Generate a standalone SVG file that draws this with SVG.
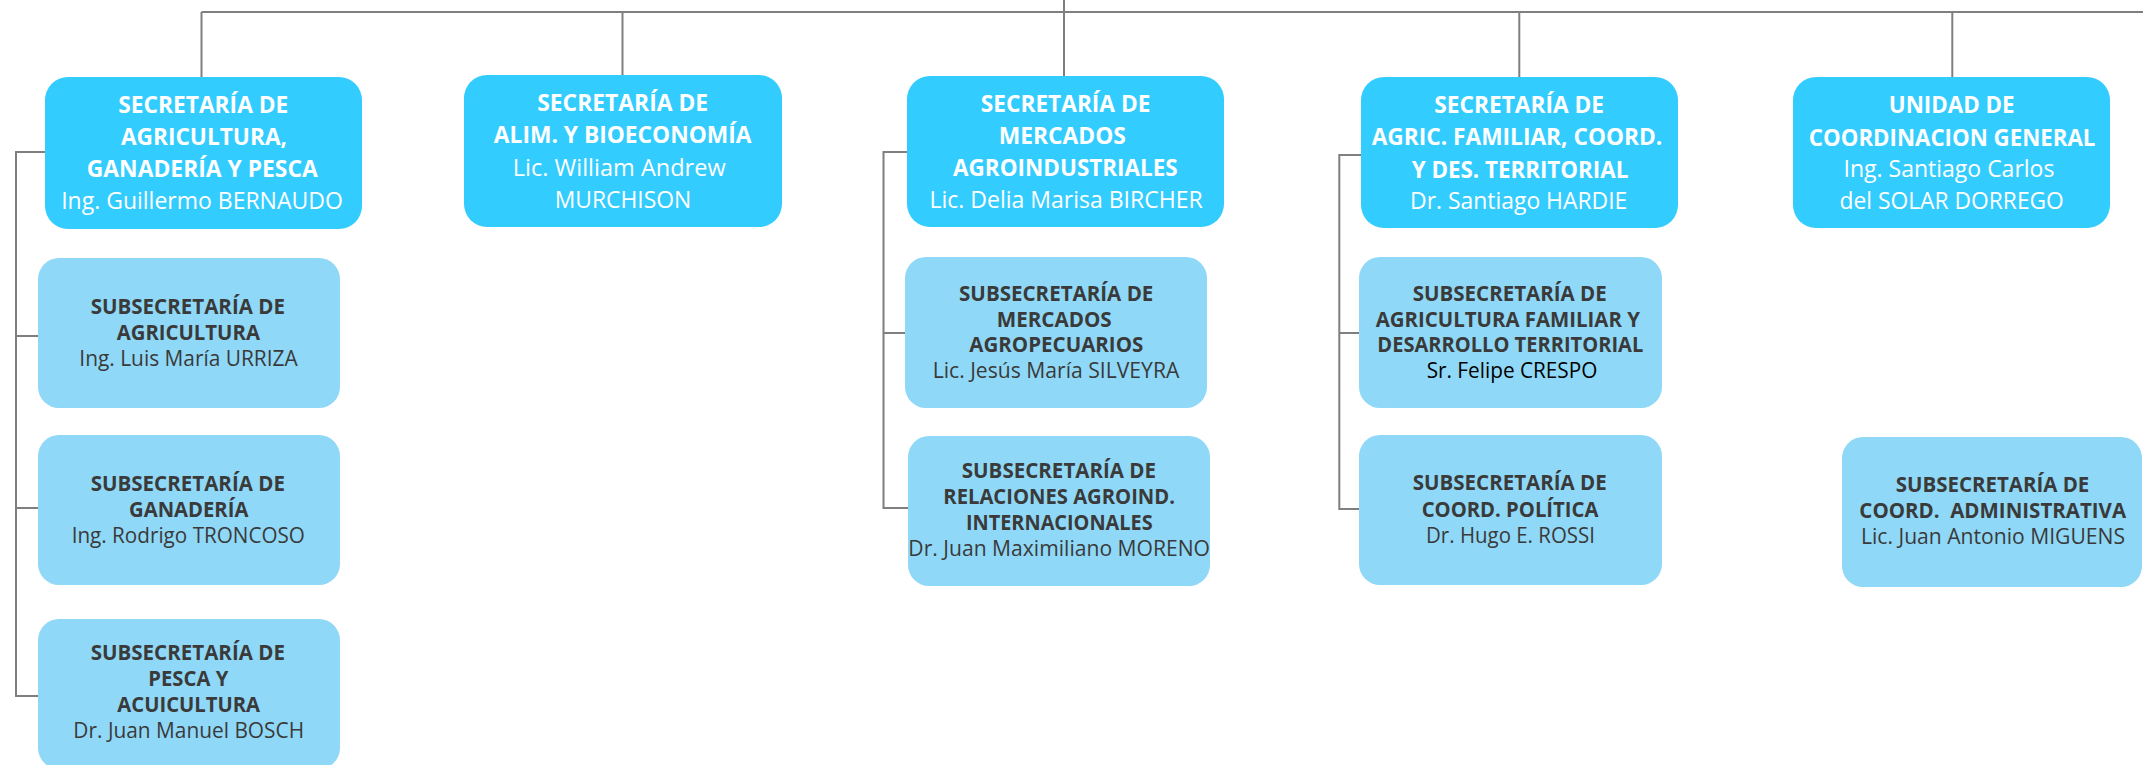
<svg xmlns="http://www.w3.org/2000/svg" width="2143" height="765" viewBox="0 0 2143 765">
<style>
.top{fill:#33CCFF}
.sub{fill:#8FD8F7}
.ln{fill:none;stroke:#7F7F7F;stroke-width:2}
text{font-family:"Open Sans","Liberation Sans",sans-serif;text-anchor:middle}
.tb{font-size:23.7px;font-weight:bold;fill:#FFFFFF}
.tr{font-size:23.7px;font-weight:normal;fill:#FFFFFF}
.sb{font-size:21.6px;font-weight:bold;fill:#3A3A3A}
.sr{font-size:21.6px;font-weight:normal;fill:#3A3A3A}
.sk{fill:#000000}
</style>
<rect width="2143" height="765" fill="#FFFFFF"/>
<g id="connectors">
<path class="ln" d="M201.5 12 H2143"/>
<path class="ln" d="M1064 0 V76"/>
<path class="ln" d="M201.5 12 V77"/>
<path class="ln" d="M622.5 12 V75"/>
<path class="ln" d="M1519.3 12 V77"/>
<path class="ln" d="M1952.3 12 V77"/>
<path class="ln" d="M45 152 H16 V696 H38 M16 336 H38 M16 508 H38"/>
<path class="ln" d="M907 152 H883.5 V508 H908 M883.5 333 H905"/>
<path class="ln" d="M1361 155 H1339.3 V509 H1359 M1339.3 333 H1359"/>
</g>
<g id="sec-agricultura">
<rect class="top" x="45" y="77" width="317" height="152" rx="23"/>
<text class="tb" x="203.3" y="113" textLength="170" lengthAdjust="spacingAndGlyphs">SECRETARÍA DE</text>
<text class="tb" x="204" y="145" textLength="166" lengthAdjust="spacingAndGlyphs">AGRICULTURA,</text>
<text class="tb" x="202.3" y="177" textLength="231" lengthAdjust="spacingAndGlyphs">GANADERÍA Y PESCA</text>
<text class="tr" x="202" y="209" textLength="281.6" lengthAdjust="spacingAndGlyphs">Ing. Guillermo BERNAUDO</text>
</g>
<g id="sec-alimentos">
<rect class="top" x="464" y="75" width="318" height="152" rx="23"/>
<text class="tb" x="622.7" y="111" textLength="171" lengthAdjust="spacingAndGlyphs">SECRETARÍA DE</text>
<text class="tb" x="622.7" y="143" textLength="257.7" lengthAdjust="spacingAndGlyphs">ALIM. Y BIOECONOMÍA</text>
<text class="tr" x="619.2" y="175.5" textLength="212.8" lengthAdjust="spacingAndGlyphs">Lic. William Andrew</text>
<text class="tr" x="623" y="207.5" textLength="136.7" lengthAdjust="spacingAndGlyphs">MURCHISON</text>
</g>
<g id="sec-mercados">
<rect class="top" x="907" y="76" width="317" height="151" rx="23"/>
<text class="tb" x="1065.6" y="112.3" textLength="169.6" lengthAdjust="spacingAndGlyphs">SECRETARÍA DE</text>
<text class="tb" x="1062.3" y="144.3" textLength="127.2" lengthAdjust="spacingAndGlyphs">MERCADOS</text>
<text class="tb" x="1065.4" y="176" textLength="224.6" lengthAdjust="spacingAndGlyphs">AGROINDUSTRIALES</text>
<text class="tr" x="1066.1" y="208.3" textLength="273.2" lengthAdjust="spacingAndGlyphs">Lic. Delia Marisa BIRCHER</text>
</g>
<g id="sec-agric-familiar">
<rect class="top" x="1361" y="77" width="317" height="151" rx="23"/>
<text class="tb" x="1519.2" y="113.3" textLength="169.7" lengthAdjust="spacingAndGlyphs">SECRETARÍA DE</text>
<text class="tb" x="1517" y="145" textLength="290.7" lengthAdjust="spacingAndGlyphs">AGRIC. FAMILIAR, COORD.</text>
<text class="tb" x="1520" y="177.7" textLength="216.7" lengthAdjust="spacingAndGlyphs">Y DES. TERRITORIAL</text>
<text class="tr" x="1518.7" y="209.3" textLength="217.3" lengthAdjust="spacingAndGlyphs">Dr. Santiago HARDIE</text>
</g>
<g id="unidad-coordinacion">
<rect class="top" x="1793" y="77" width="317" height="151" rx="23"/>
<text class="tb" x="1951.7" y="113" textLength="125.9" lengthAdjust="spacingAndGlyphs">UNIDAD DE</text>
<text class="tb" x="1952.1" y="145.7" textLength="286.6" lengthAdjust="spacingAndGlyphs">COORDINACION GENERAL</text>
<text class="tr" x="1949" y="177" textLength="210.8" lengthAdjust="spacingAndGlyphs">Ing. Santiago Carlos</text>
<text class="tr" x="1951.7" y="209" textLength="224.3" lengthAdjust="spacingAndGlyphs">del SOLAR DORREGO</text>
</g>
<g id="sub-agricultura">
<rect class="sub" x="38" y="258" width="302" height="150" rx="21"/>
<text class="sb" x="187.8" y="314" textLength="194.3" lengthAdjust="spacingAndGlyphs">SUBSECRETARÍA DE</text>
<text class="sb" x="188.3" y="340" textLength="143.3" lengthAdjust="spacingAndGlyphs">AGRICULTURA</text>
<text class="sr" x="188.5" y="365.5" textLength="218.3" lengthAdjust="spacingAndGlyphs">Ing. Luis María URRIZA</text>
</g>
<g id="sub-ganaderia">
<rect class="sub" x="38" y="435" width="302" height="150" rx="21"/>
<text class="sb" x="187.8" y="490.7" textLength="194.3" lengthAdjust="spacingAndGlyphs">SUBSECRETARÍA DE</text>
<text class="sb" x="188.7" y="516.7" textLength="119.3" lengthAdjust="spacingAndGlyphs">GANADERÍA</text>
<text class="sr" x="188.3" y="542.7" textLength="233.3" lengthAdjust="spacingAndGlyphs">Ing. Rodrigo TRONCOSO</text>
</g>
<g id="sub-pesca">
<rect class="sub" x="38" y="619" width="302" height="150" rx="21"/>
<text class="sb" x="187.8" y="660" textLength="194.3" lengthAdjust="spacingAndGlyphs">SUBSECRETARÍA DE</text>
<text class="sb" x="188.3" y="686" textLength="80" lengthAdjust="spacingAndGlyphs">PESCA Y</text>
<text class="sb" x="188.7" y="711.7" textLength="142.7" lengthAdjust="spacingAndGlyphs">ACUICULTURA</text>
<text class="sr" x="188.7" y="737.7" textLength="230.7" lengthAdjust="spacingAndGlyphs">Dr. Juan Manuel BOSCH</text>
</g>
<g id="sub-mercados-agropecuarios">
<rect class="sub" x="905" y="257" width="302" height="151" rx="21"/>
<text class="sb" x="1056.2" y="300.7" textLength="194.3" lengthAdjust="spacingAndGlyphs">SUBSECRETARÍA DE</text>
<text class="sb" x="1054.2" y="326.7" textLength="115" lengthAdjust="spacingAndGlyphs">MERCADOS</text>
<text class="sb" x="1056.3" y="352.3" textLength="174" lengthAdjust="spacingAndGlyphs">AGROPECUARIOS</text>
<text class="sr" x="1056" y="378.3" textLength="246.7" lengthAdjust="spacingAndGlyphs">Lic. Jesús María SILVEYRA</text>
</g>
<g id="sub-relaciones">
<rect class="sub" x="908" y="436" width="302" height="150" rx="21"/>
<text class="sb" x="1058.9" y="478.3" textLength="194.3" lengthAdjust="spacingAndGlyphs">SUBSECRETARÍA DE</text>
<text class="sb" x="1059.2" y="504.3" textLength="231.7" lengthAdjust="spacingAndGlyphs">RELACIONES AGROIND.</text>
<text class="sb" x="1059.3" y="530" textLength="186.7" lengthAdjust="spacingAndGlyphs">INTERNACIONALES</text>
<text class="sr" x="1059.2" y="556" textLength="301.7" lengthAdjust="spacingAndGlyphs">Dr. Juan Maximiliano MORENO</text>
</g>
<g id="sub-agric-familiar">
<rect class="sub" x="1359" y="257" width="303" height="151" rx="21"/>
<text class="sb" x="1509.7" y="300.7" textLength="194" lengthAdjust="spacingAndGlyphs">SUBSECRETARÍA DE</text>
<text class="sb" x="1507.8" y="326.7" textLength="264.3" lengthAdjust="spacingAndGlyphs">AGRICULTURA FAMILIAR Y</text>
<text class="sb" x="1510.3" y="352.3" textLength="266" lengthAdjust="spacingAndGlyphs">DESARROLLO TERRITORIAL</text>
<text class="sr sk" x="1512" y="378.3" textLength="170.7" lengthAdjust="spacingAndGlyphs">Sr. Felipe CRESPO</text>
</g>
<g id="sub-coord-politica">
<rect class="sub" x="1359" y="435" width="303" height="150" rx="21"/>
<text class="sb" x="1509.7" y="490" textLength="194" lengthAdjust="spacingAndGlyphs">SUBSECRETARÍA DE</text>
<text class="sb" x="1510" y="516.7" textLength="176.7" lengthAdjust="spacingAndGlyphs">COORD. POLÍTICA</text>
<text class="sr" x="1510.5" y="542.7" textLength="169" lengthAdjust="spacingAndGlyphs">Dr. Hugo E. ROSSI</text>
</g>
<g id="sub-coord-administrativa">
<rect class="sub" x="1842" y="437" width="300" height="150" rx="21"/>
<text class="sb" x="1992.5" y="492.3" textLength="193.6" lengthAdjust="spacingAndGlyphs">SUBSECRETARÍA DE</text>
<text class="sb" x="1992.7" y="518.3" textLength="266.7" lengthAdjust="spacingAndGlyphs">COORD.&#160; ADMINISTRATIVA</text>
<text class="sr" x="1993" y="544" textLength="264" lengthAdjust="spacingAndGlyphs">Lic. Juan Antonio MIGUENS</text>
</g>
</svg>
